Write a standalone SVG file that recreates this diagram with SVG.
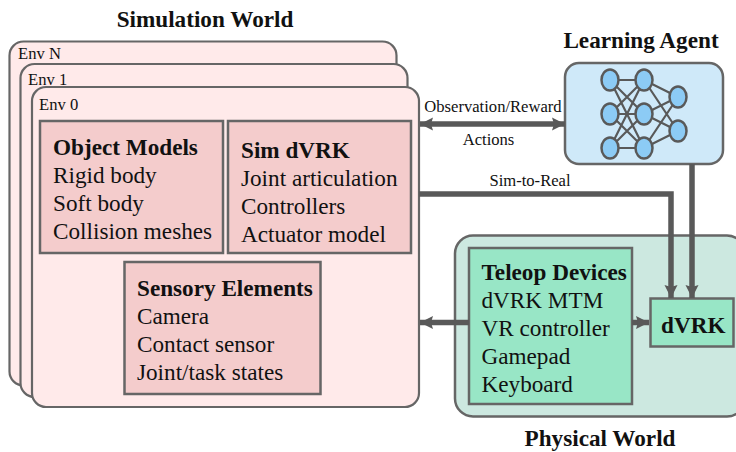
<svg xmlns="http://www.w3.org/2000/svg" width="736" height="452" viewBox="0 0 736 452">
<defs>
<marker id="ah" markerUnits="userSpaceOnUse" markerWidth="16" markerHeight="16" refX="13" refY="8" orient="auto-start-reverse"><path d="M0 1.500L13 8L0 14.500L2 8Z" fill="#595959"/></marker>
</defs>
<style>
text{font-family:"Liberation Serif","Times New Roman",serif;fill:#111}
.t{font-size:23.200px;font-weight:bold}
.i{font-size:23.200px}
.s{font-size:16.600px}
.h{font-size:23.200px;font-weight:bold}
.env{fill:#ffeaea;stroke:#666;stroke-width:2.200}
.pk{fill:#f4cccc;stroke:#666;stroke-width:2.500}
.gr{fill:#98e6c6;stroke:#666;stroke-width:2.500}
.c{fill:none;stroke:#595959;stroke-width:5.500}
.n{fill:#8ccbf5;stroke:#595959;stroke-width:2.500}
.e{stroke:#595959;stroke-width:2.200}
</style>
<rect width="736" height="452" fill="#fff"/>
<g id="sim-title"><text class="t" x="205" y="27" text-anchor="middle">Simulation World</text></g>
<g id="env-n"><rect class="env" x="9.500" y="41.500" width="387" height="344" rx="14"/><text class="s" x="18" y="59">Env N</text></g>
<g id="env-1"><rect class="env" x="20.500" y="64" width="387" height="333" rx="14"/><text class="s" x="28" y="85">Env 1</text></g>
<g id="env-0"><rect class="env" x="32" y="87" width="387" height="320" rx="14"/><text class="s" x="39" y="110">Env 0</text></g>
<g id="object-models"><rect class="pk" x="40" y="121" width="183" height="132"/><text class="h" x="53" y="155">Object Models</text><text class="i" x="53" y="183">Rigid body</text><text class="i" x="53" y="211">Soft body</text><text class="i" x="53" y="239">Collision meshes</text></g>
<g id="sim-dvrk"><rect class="pk" x="228" y="121" width="183" height="132"/><text class="h" x="241" y="158">Sim dVRK</text><text class="i" x="241" y="186">Joint articulation</text><text class="i" x="241" y="214">Controllers</text><text class="i" x="241" y="242">Actuator model</text></g>
<g id="sensory-elements"><rect class="pk" x="124.500" y="262" width="196" height="132"/><text class="h" x="137" y="296">Sensory Elements</text><text class="i" x="137" y="324">Camera</text><text class="i" x="137" y="352">Contact sensor</text><text class="i" x="137" y="380">Joint/task states</text></g>
<g id="physical-world"><rect x="455" y="235.500" width="290" height="181" rx="18" fill="#cce8e0" stroke="#666" stroke-width="2.500"/><text class="t" x="600" y="446" text-anchor="middle">Physical World</text></g>
<g id="teleop-devices"><rect class="gr" x="469" y="248" width="163" height="156"/><text class="h" x="481.500" y="280">Teleop Devices</text><text class="i" x="481.500" y="308">dVRK MTM</text><text class="i" x="481.500" y="336">VR controller</text><text class="i" x="481.500" y="364">Gamepad</text><text class="i" x="481.500" y="392">Keyboard</text></g>
<g id="dvrk"><rect class="gr" x="650.500" y="298.500" width="83" height="48"/><text class="h" x="661" y="333">dVRK</text></g>
<g id="learning-agent"><text class="t" x="641" y="48" text-anchor="middle">Learning Agent</text><rect x="565" y="63" width="158" height="101" rx="14" fill="#cfe9f9" stroke="#666" stroke-width="2.500"/>
<path class="e" d="M610 80H644M610 80L644 114M610 80L644 148M610 114L644 80M610 114H644M610 114L644 148M610 148L644 80M610 148L644 114M610 148H644M644 80L678 97M644 80L678 131M644 114L678 97M644 114L678 131M644 148L678 97M644 148L678 131"/>
<ellipse class="n" cx="610" cy="80" rx="8.500" ry="10.500"/><ellipse class="n" cx="610" cy="114" rx="8.500" ry="10.500"/><ellipse class="n" cx="610" cy="148" rx="8.500" ry="10.500"/><ellipse class="n" cx="644" cy="80" rx="8.500" ry="10.500"/><ellipse class="n" cx="644" cy="114" rx="8.500" ry="10.500"/><ellipse class="n" cx="644" cy="148" rx="8.500" ry="10.500"/><ellipse class="n" cx="678" cy="97" rx="8.500" ry="10.500"/><ellipse class="n" cx="678" cy="131" rx="8.500" ry="10.500"/></g>
<g id="connectors">
<path class="c" d="M420 124H565" marker-start="url(#ah)" marker-end="url(#ah)"/>
<path class="c" d="M419 194H671V298" marker-end="url(#ah)"/>
<path class="c" d="M692 164V298" marker-end="url(#ah)"/>
<path class="c" d="M469 322.500H420" marker-end="url(#ah)"/>
<path class="c" d="M632 322.500H649" marker-end="url(#ah)"/>
<text class="s" x="493" y="112" text-anchor="middle">Observation/Reward</text>
<text class="s" x="488.500" y="145" text-anchor="middle">Actions</text>
<text class="s" x="530" y="186" text-anchor="middle">Sim-to-Real</text>
</g>
</svg>
